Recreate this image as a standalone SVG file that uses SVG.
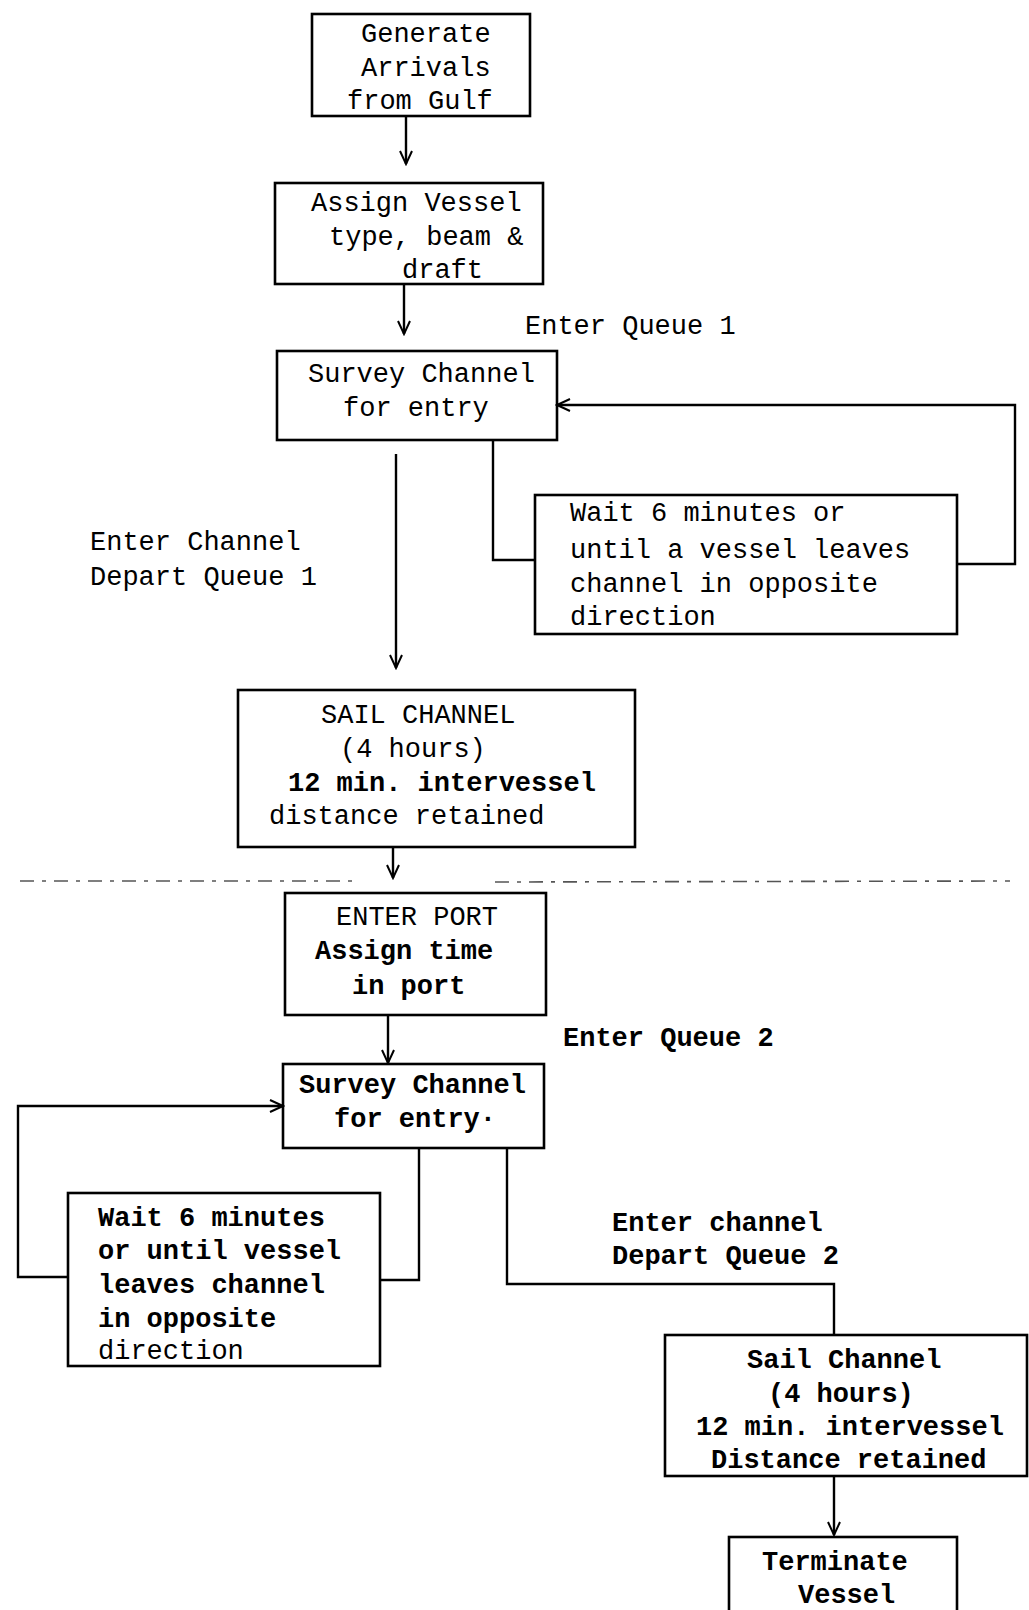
<svg xmlns="http://www.w3.org/2000/svg" width="1029" height="1610" viewBox="0 0 1029 1610">
<style>
.box{fill:none;stroke:#000;stroke-width:2.6}
.ln{fill:none;stroke:#000;stroke-width:2.4}
.t{font-family:"Liberation Mono","Courier New",monospace;font-size:27px;fill:#000}
.b{font-weight:bold}
.dash{fill:none;stroke:#555;stroke-width:1.6;stroke-dasharray:14 8 4 8}
</style>
<defs>
<marker id="v" markerWidth="16" markerHeight="16" refX="14" refY="8" orient="auto" markerUnits="userSpaceOnUse" viewBox="0 0 16 16">
<path d="M1,2 L14,8 L1,14" fill="none" stroke="#000" stroke-width="2"/>
</marker>
</defs>
<rect width="1029" height="1610" fill="#fff"/>
<g id="connectors">
<path class="ln" d="M406,116 L406,164" marker-end="url(#v)"/>
<path class="ln" d="M404,284 L404,334" marker-end="url(#v)"/>
<path class="ln" d="M396,454 L396,668" marker-end="url(#v)"/>
<path class="ln" d="M493,440 L493,560 L535,560"/>
<path class="ln" d="M957,564 L1015,564 L1015,405 L557,405" marker-end="url(#v)"/>
<path class="ln" d="M393,847 L393,878" marker-end="url(#v)"/>
<path class="ln" d="M388,1015 L388,1063" marker-end="url(#v)"/>
<path class="ln" d="M68,1277 L18,1277 L18,1106 L283,1106" marker-end="url(#v)"/>
<path class="ln" d="M419,1148 L419,1280 L380,1280"/>
<path class="ln" d="M507,1148 L507,1284 L834,1284 L834,1335"/>
<path class="ln" d="M834,1476 L834,1535" marker-end="url(#v)"/>
<path class="dash" d="M20,881 L355,881 M495,882 L1010,881"/>
</g>
<g id="n_generate">
<rect class="box" x="312" y="14" width="218" height="102"/>
<text class="t" x="361" y="42">Generate</text>
<text class="t" x="361" y="76">Arrivals</text>
<text class="t" x="347" y="109">from Gulf</text>
</g>
<g id="n_assign">
<rect class="box" x="275" y="183" width="268" height="101"/>
<text class="t" x="311" y="211">Assign Vessel</text>
<text class="t" x="329" y="245">type, beam &amp;</text>
<text class="t" x="402" y="278">draft</text>
</g>
<g id="l_enterq1">
<text class="t" x="525" y="334">Enter Queue 1</text>
</g>
<g id="n_survey1">
<rect class="box" x="277" y="351" width="280" height="89"/>
<text class="t" x="308" y="382">Survey Channel</text>
<text class="t" x="343" y="416">for entry</text>
</g>
<g id="n_wait1">
<rect class="box" x="535" y="495" width="422" height="139"/>
<text class="t" x="570" y="521">Wait 6 minutes or</text>
<text class="t" x="570" y="558">until a vessel leaves</text>
<text class="t" x="570" y="592">channel in opposite</text>
<text class="t" x="570" y="625">direction</text>
</g>
<g id="l_enterch1">
<text class="t" x="90" y="550">Enter Channel</text>
<text class="t" x="90" y="585">Depart Queue 1</text>
</g>
<g id="n_sail1">
<rect class="box" x="238" y="690" width="397" height="157"/>
<text class="t" x="321" y="723">SAIL CHANNEL</text>
<text class="t" x="340" y="757">(4 hours)</text>
<text class="t b" x="288" y="791">12 min. intervessel</text>
<text class="t" x="269" y="824">distance retained</text>
</g>
<g id="n_port">
<rect class="box" x="285" y="893" width="261" height="122"/>
<text class="t" x="336" y="925">ENTER PORT</text>
<text class="t b" x="315" y="959">Assign time</text>
<text class="t b" x="352" y="994">in port</text>
</g>
<g id="l_enterq2">
<text class="t b" x="563" y="1046">Enter Queue 2</text>
</g>
<g id="n_survey2">
<rect class="box" x="283" y="1064" width="261" height="84"/>
<text class="t b" x="299" y="1093">Survey Channel</text>
<text class="t b" x="334" y="1127">for entry·</text>
</g>
<g id="n_wait2">
<rect class="box" x="68" y="1193" width="312" height="173"/>
<text class="t b" x="98" y="1226">Wait 6 minutes</text>
<text class="t b" x="98" y="1259">or until vessel</text>
<text class="t b" x="98" y="1293">leaves channel</text>
<text class="t b" x="98" y="1327">in opposite</text>
<text class="t" x="98" y="1359">direction</text>
</g>
<g id="l_enterch2">
<text class="t b" x="612" y="1231">Enter channel</text>
<text class="t b" x="612" y="1264">Depart Queue 2</text>
</g>
<g id="n_sail2">
<rect class="box" x="665" y="1335" width="362" height="141"/>
<text class="t b" x="747" y="1368">Sail Channel</text>
<text class="t b" x="768" y="1402">(4 hours)</text>
<text class="t b" x="696" y="1435">12 min. intervessel</text>
<text class="t b" x="711" y="1468">Distance retained</text>
</g>
<g id="n_terminate">
<rect class="box" x="729" y="1537" width="228" height="80"/>
<text class="t b" x="762" y="1570">Terminate</text>
<text class="t b" x="798" y="1603">Vessel</text>
</g>
</svg>
